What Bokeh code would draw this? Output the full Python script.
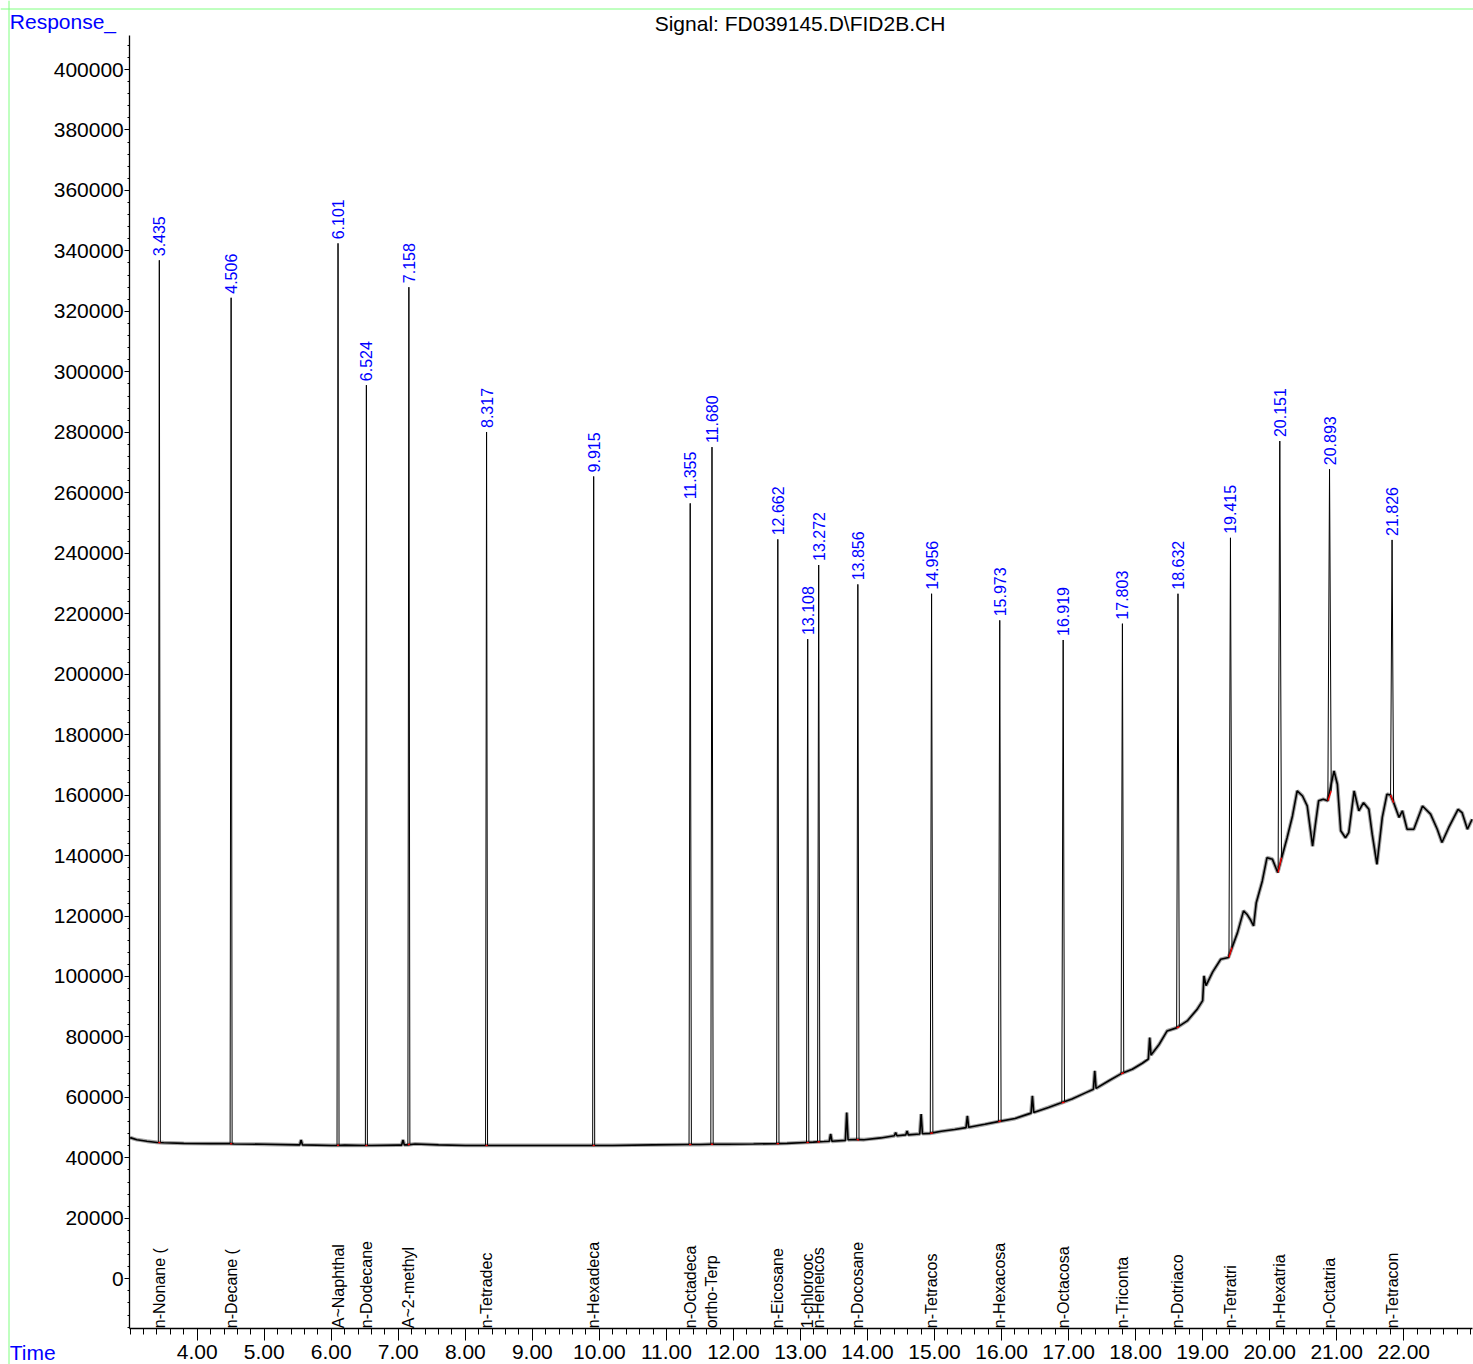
import math
from bokeh.plotting import figure
from bokeh.models import FixedTicker, PrintfTickFormatter, Label, Range1d, LinearAxis, Span
from bokeh.core.properties import value
from bokeh.embed import file_html
from bokeh.resources import INLINE

# ---------------- data ----------------
# baseline of the FID trace (time in min, response)
base_t = [3.00, 3.10, 3.25, 3.40, 3.50, 3.80, 4.20, 4.48, 4.55, 5.00, 5.50, 5.53, 5.55, 5.57,
          6.00, 6.08, 6.20, 6.50, 6.60, 7.00, 7.05, 7.07, 7.09, 7.14, 7.25, 7.60, 8.00, 8.30,
          8.50, 9.00, 9.50, 9.89, 10.20, 10.80, 11.30, 11.50, 11.66, 11.90, 12.30, 12.64, 12.80,
          13.08, 13.19, 13.25, 13.35, 13.43, 13.45, 13.47, 13.67, 13.69, 13.71, 13.83, 13.95,
          14.20, 14.40, 14.42, 14.44, 14.57, 14.59, 14.61, 14.78, 14.80, 14.82, 14.93, 15.10,
          15.30, 15.47, 15.49, 15.51, 15.75, 15.95, 16.20, 16.44, 16.46, 16.48, 16.70, 16.89,
          17.05, 17.25, 17.37, 17.39, 17.41, 17.60, 17.78, 17.95, 18.10, 18.19, 18.21, 18.23,
          18.35, 18.47, 18.61, 18.77, 18.92, 19.00, 19.02, 19.05, 19.15, 19.27, 19.385, 19.52,
          19.61, 19.66, 19.72, 19.76, 19.80, 19.89, 19.96, 20.04, 20.12, 20.26, 20.34, 20.41,
          20.49, 20.56, 20.64, 20.68, 20.73, 20.80, 20.865, 20.96, 21.01, 21.06, 21.13, 21.18,
          21.26, 21.33, 21.40, 21.48, 21.53, 21.60, 21.68, 21.75, 21.80, 21.85, 21.93, 21.98,
          22.05, 22.15, 22.28, 22.40, 22.50, 22.57, 22.67, 22.81, 22.87, 22.95, 23.02]
base_y = [46700, 46000, 45500, 45100, 45000, 44800, 44700, 44700, 44600, 44500, 44300, 44300, 45900, 44300,
          44100, 44100, 44200, 44100, 44100, 44200, 44200, 45900, 44300, 44300, 44600, 44300, 44100, 44100,
          44100, 44100, 44100, 44100, 44100, 44300, 44400, 44400, 44500, 44500, 44600, 44700, 44800,
          45100, 45200, 45300, 45400, 45500, 47900, 45500, 45800, 55000, 46000, 46100, 46000,
          46600, 47300, 48400, 47300, 47600, 48900, 47600, 47900, 54500, 48000, 48100, 48800,
          49400, 50000, 53900, 50100, 51100, 52000, 53000, 54800, 60500, 55000, 56700, 58200,
          59500, 61500, 62700, 68800, 63000, 65500, 67800, 69300, 71300, 72700, 79800, 74000,
          77500, 82000, 83000, 85300, 89200, 92000, 100200, 97000, 101500, 105700, 106300, 114500,
          121700, 120600, 118500, 116700, 124400, 131600, 139300, 138800, 134400, 145900, 153100, 161400,
          159700, 156400, 143100, 150000, 158100, 158600, 158100, 168000, 163600, 148200, 145900, 147600,
          161400, 154800, 157500, 155300, 147000, 137100, 152600, 160300, 160000, 157500, 152600, 154800,
          148700, 148700, 156400, 153700, 148700, 144300, 149200, 155300, 154200, 148700, 152000]

# integrated peaks
peak_t = [3.435, 4.506, 6.101, 6.524, 7.158, 8.317, 9.915, 11.355, 11.680, 12.662, 13.108,
          13.272, 13.856, 14.956, 15.973, 16.919, 17.803, 18.632, 19.415, 20.151, 20.893, 21.826]
peak_h = [336900, 324500, 342500, 295600, 328000, 280100, 265400, 256500, 275100, 244600, 211600,
          236100, 229700, 226600, 217800, 211300, 216700, 226600, 245100, 277100, 267800, 244400]
peak_base_l = [45100, 44700, 44100, 44100, 44300, 44100, 44100, 44400, 44500, 44700, 45100,
               45300, 46100, 48100, 52000, 58200, 67800, 83000, 106300, 134400, 158100, 160000]
peak_base_r = [45000, 44600, 44200, 44100, 44600, 44100, 44100, 44400, 44500, 44700, 45100,
               45300, 45900, 48300, 52200, 58400, 68200, 83400, 109600, 139300, 161400, 157500]
peak_w = [0.03, 0.03, 0.03, 0.03, 0.03, 0.03, 0.03, 0.035, 0.035, 0.035, 0.035,
          0.035, 0.035, 0.04, 0.04, 0.04, 0.04, 0.04, 0.045, 0.05, 0.05, 0.045]
peak_names = ["n-Nonane (", "n-Decane (", "A~Naphthal", "n-Dodecane", "A~2-methyl", "n-Tetradec",
              "n-Hexadeca", "n-Octadeca", "ortho-Terp", "n-Eicosane", "1-chlorooc", "n-Heneicos",
              "n-Docosane", "n-Tetracos", "n-Hexacosa", "n-Octacosa", "n-Triconta", "n-Dotriaco",
              "n-Tetratri", "n-Hexatria", "n-Octatria", "n-Tetracon"]
peak_labels = [f"{t:.3f}" for t in peak_t]

x_ticks = [4.0, 5.0, 6.0, 7.0, 8.0, 9.0, 10.0, 11.0, 12.0, 13.0, 14.0, 15.0, 16.0, 17.0,
           18.0, 19.0, 20.0, 21.0, 22.0]
y_ticks = [0, 20000, 40000, 60000, 80000, 100000, 120000, 140000, 160000, 180000, 200000,
           220000, 240000, 260000, 280000, 300000, 320000, 340000, 360000, 380000, 400000]
x_minor = [round(3.0 + 0.2 * i, 1) for i in range(101)]
y_minor = [-16000 + 4000 * i for i in range(107)]

TITLE = "Signal: FD039145.D\\FID2B.CH"
Y_TITLE = "Response_"
X_TITLE = "Time"
FONT = "Liberation Sans"
BLUE = "#0000ff"

# ---------------- page geometry (pixels -> data) ----------------
W, H = 1473, 1364
PX_PER_MIN = 67.03
PX_PER_UNIT = 60.465 / 20000
X_START = 4.0 - 196.7 / PX_PER_MIN
X_END = X_START + W / PX_PER_MIN
Y_END = 400000 + 69 / PX_PER_UNIT
Y_START = Y_END - H / PX_PER_UNIT


def xd(px):
    return X_START + px / PX_PER_MIN


def yd(py):
    return Y_END - py / PX_PER_UNIT


X_AXIS_AT = yd(1327.7)   # response value where the time axis sits
Y_AXIS_AT = xd(129.3)    # time value where the response axis sits

p = figure(width=W, height=H, x_range=Range1d(X_START, X_END), y_range=Range1d(Y_START, Y_END),
           output_backend="svg", toolbar_location=None,
           x_axis_location=None, y_axis_location=None, min_border=0,
           border_fill_color="white", background_fill_color="white", outline_line_color=None)
p.xgrid.visible = False
p.ygrid.visible = False

xa = LinearAxis(fixed_location=X_AXIS_AT, bounds=(Y_AXIS_AT, xd(1471.7)))
xa.ticker = FixedTicker(ticks=x_ticks, minor_ticks=x_minor)
xa.formatter = PrintfTickFormatter(format="%.2f")
xa.major_tick_out = 12
xa.major_tick_in = 0
xa.minor_tick_out = 6
xa.minor_tick_in = 0
xa.major_label_standoff = 5
xa.major_label_text_font = FONT
xa.major_label_text_font_size = "21px"
xa.major_label_text_color = "black"
xa.axis_line_color = "black"
xa.axis_line_width = 1.3
xa.major_tick_line_color = "black"
xa.minor_tick_line_color = "black"
p.add_layout(xa, "below")

ya = LinearAxis(fixed_location=Y_AXIS_AT, bounds=(X_AXIS_AT, yd(35)))
ya.ticker = FixedTicker(ticks=y_ticks, minor_ticks=y_minor)
ya.formatter = PrintfTickFormatter(format="%d")
ya.major_tick_out = 5
ya.major_tick_in = 0
ya.minor_tick_out = 2
ya.minor_tick_in = 0
ya.major_label_standoff = 1
ya.major_label_text_font = FONT
ya.major_label_text_font_size = "21px"
ya.major_label_text_color = "black"
ya.axis_line_color = "black"
ya.axis_line_width = 1.3
ya.major_tick_line_color = "black"
ya.minor_tick_line_color = "black"
p.add_layout(ya, "left")

# light green page frame
p.add_layout(Span(location=xd(8.5), dimension="height", line_color="#80ff80", line_width=1))
p.add_layout(Span(location=yd(8.5), dimension="width", line_color="#80ff80", line_width=1))

# baseline trace (noisy look: grey halo + black core)
p.line(base_t, base_y, line_color="#8c8c8c", line_width=3.8, line_alpha=0.8)
p.line(base_t, base_y, line_color="black", line_width=1.6)

# peaks
pxs = [[t - w / 2, t, t + w / 2] for t, w in zip(peak_t, peak_w)]
pys = [[bl, h, br] for bl, h, br in zip(peak_base_l, peak_h, peak_base_r)]
p.multi_line(pxs, pys, line_color="black", line_width=1.0)

# integration baselines
p.segment(x0=[t - w / 2 for t, w in zip(peak_t, peak_w)], y0=peak_base_l,
          x1=[t + w / 2 for t, w in zip(peak_t, peak_w)], y1=peak_base_r,
          line_color="red", line_width=1.3)

# retention-time labels
p.text(x=peak_t, y=peak_h, text=peak_labels, angle=math.pi / 2,
       text_align="left", text_baseline="middle", y_offset=-4,
       text_color=BLUE, text_font=value(FONT), text_font_size="16px")

# compound names along the time axis
p.text(x=peak_t, y=[X_AXIS_AT] * len(peak_t), text=peak_names, angle=math.pi / 2,
       text_align="left", text_baseline="middle",
       text_color="black", text_font=value(FONT), text_font_size="16px")

# header and axis titles
p.add_layout(Label(x=xd(9.3), y=yd(20.8), text=Y_TITLE, text_color=BLUE, text_font=FONT,
                   text_font_size="21px", text_baseline="alphabetic"))
p.add_layout(Label(x=xd(799.5), y=yd(22.5), text=TITLE, text_color="black", text_font=FONT,
                   text_font_size="21px", text_align="center", text_baseline="alphabetic"))
p.add_layout(Label(x=xd(9.3), y=yd(1351.8), text=X_TITLE, text_color=BLUE, text_font=FONT,
                   text_font_size="21px", text_baseline="alphabetic"))

open("out.html", "w").write(file_html(p, INLINE))
